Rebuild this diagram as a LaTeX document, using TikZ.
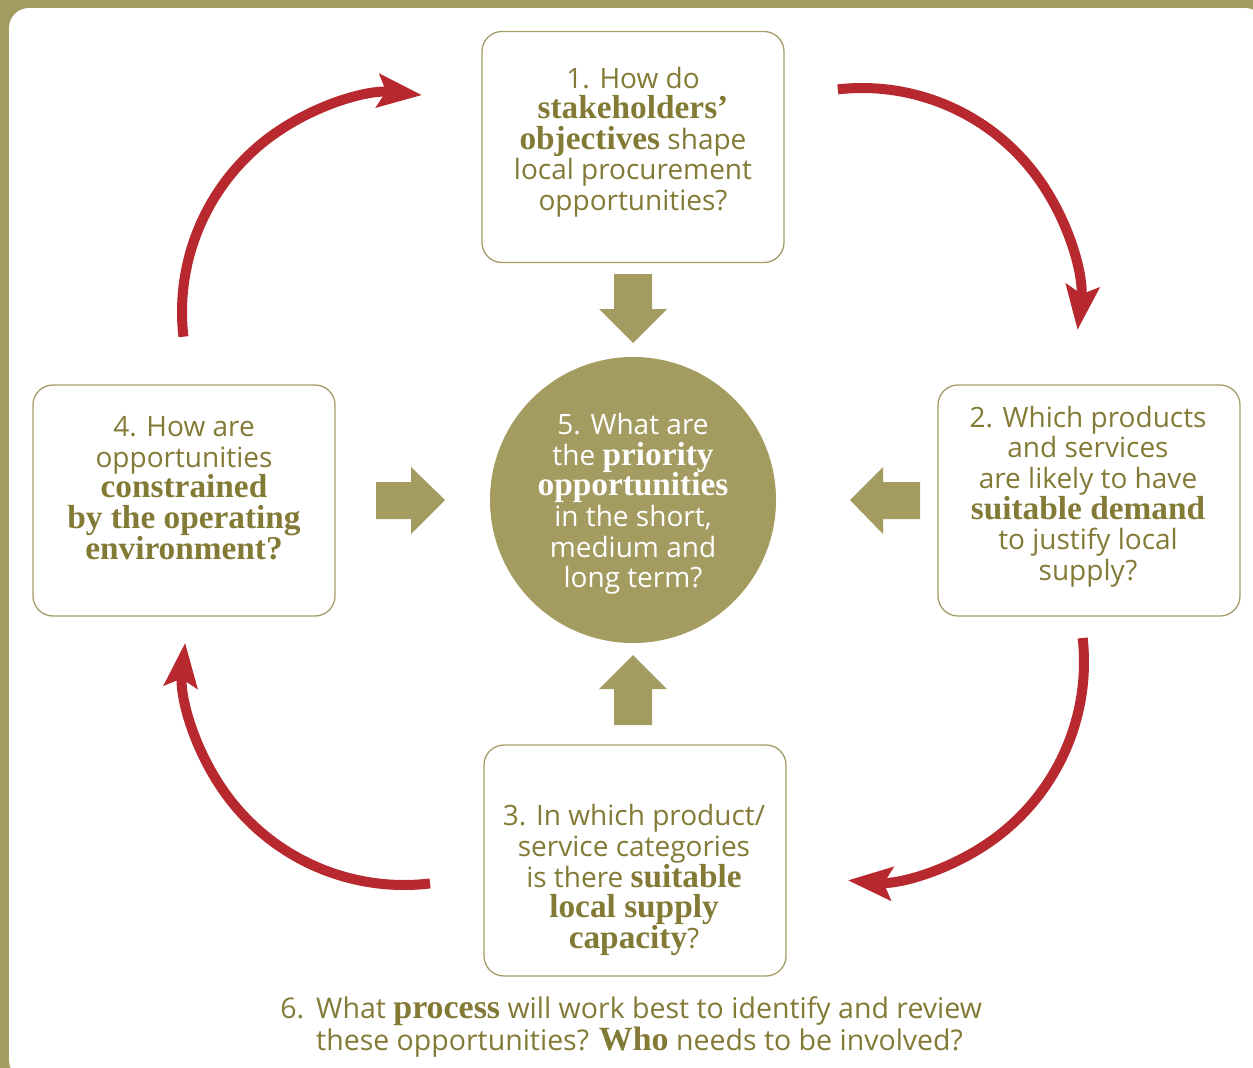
\documentclass[tikz,border=0pt]{standalone}
\usepackage{fontspec}
\setmainfont{Open Sans}
\newfontfamily\slabfont[Scale=1.19]{Liberation Serif}
\usetikzlibrary{arrows.meta}
\definecolor{olivefill}{HTML}{A39B60}
\definecolor{olivetext}{HTML}{837A36}
\definecolor{boxline}{HTML}{A59D67}
\definecolor{redarc}{HTML}{B8282F}
\newcommand{\slb}[1]{{\slabfont\bfseries #1}}
\begin{document}
\begin{tikzpicture}[x=1bp,y=-1bp,
  qbox/.style={draw=boxline, line width=1.3bp, rounded corners=20bp, minimum width=302bp, minimum height=231bp, fill=white, inner sep=0pt},
  qtext/.style={text=olivetext, align=center, inner sep=0pt, font=\fontsize{28bp}{30.6bp}\selectfont},
  fat/.style={fill=olivefill},
  cyc/.style={draw=redarc, line width=10bp, -{Stealth[length=44bp,width=33bp,inset=8bp]}}]
\useasboundingbox (0,0) rectangle (1253,1068);
\clip (0,0) rectangle (1253,1068);
\fill[olivefill] (0,0) rectangle (1253,1068);
\fill[white, rounded corners=20bp] (9,8) rectangle (1265,1080);

% boxes
\node[qbox] (b1) at (633,147) {};
\node[qbox] (b2) at (1089,500.5) {};
\node[qbox] (b3) at (635,860.5) {};
\node[qbox] (b4) at (184,500.5) {};
\node[circle, fill=olivefill, minimum size=286bp, inner sep=0pt] (c5) at (633,500) {};

% texts
\node[qtext] (t1) at (633,142) {1. How do\\ \slb{stakeholders’}\\ \slb{objectives} shape\\ local procurement\\ opportunities?};
\node[qtext] (t2) at (1088,496.5) {2. Which products\\ and services\\ are likely to have\\ \slb{suitable demand}\\ to justify local\\ supply?};
\node[qtext] (t3) at (634,880) {3. In which product/\\ service categories\\ is there \slb{suitable}\\ \slb{local supply}\\ \slb{capacity}?};
\node[qtext] (t4) at (184,488) {4. How are\\ opportunities\\ \slb{constrained}\\ \slb{by the operating}\\ \slb{environment?}};
\node[qtext, text=white] (t5) at (633,504) {5. What are\\ the \slb{priority}\\ \slb{opportunities}\\ in the short,\\ medium and\\ long term?};

\node[qtext, align=left, anchor=base west, font=\fontsize{28.5bp}{30bp}\selectfont] (t6) at (316,1050) {\llap{6.\hspace{12bp}}What \slb{process} will work best to identify and review\\ these opportunities? \slb{Who} needs to be involved?};

% fat olive arrows
\fill[fat] (614,274) -- (652,274) -- (652,309) -- (667,309) -- (633,343) -- (599,309) -- (614,309) -- cycle;
\fill[fat] (614,725) -- (652,725) -- (652,689) -- (667,689) -- (633,655) -- (599,689) -- (614,689) -- cycle;
\fill[fat] (376,482) -- (376,519) -- (411,519) -- (411,534) -- (445,500) -- (411,467) -- (411,482) -- cycle;
\fill[fat] (920,482) -- (920,519) -- (883,519) -- (883,534) -- (850,500) -- (883,467) -- (883,482) -- cycle;

% red cycle arcs
\draw[cyc] (400,312) ++(173.5:218) arc[start angle=173.5, end angle=275.8, radius=218];
\draw[cyc] (862,305) ++(263.6:217) arc[start angle=263.6, end angle=366.6, radius=217];
\draw[cyc] (865,662) ++(-6.3:219) arc[start angle=-6.3, end angle=94.5, radius=219];
\draw[cyc] (404,665) ++(83.2:220) arc[start angle=83.2, end angle=185.8, radius=220];
\end{tikzpicture}
\end{document}
